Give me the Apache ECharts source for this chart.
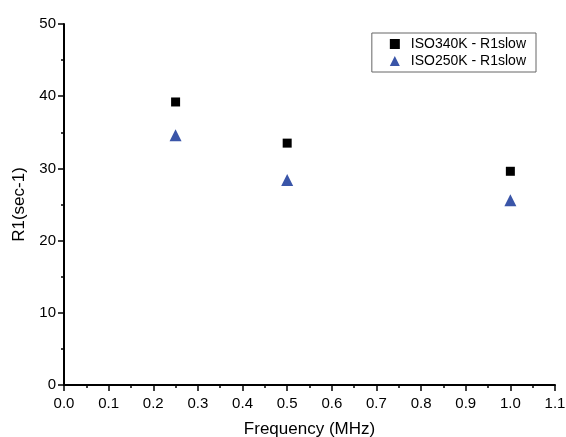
<!DOCTYPE html>
<html><head><meta charset="utf-8">
<script src="https://cdn.jsdelivr.net/npm/echarts@6/dist/echarts.min.js"></script>
<style>html,body{margin:0;padding:0;background:#fff}#c{width:566px;height:437px}</style>
</head><body><div id="c"></div>
<script>
var frequencies = [0.25, 0.5, 1.0];
var iso340 = [39.2, 33.5, 29.6];
var iso250 = [34.6, 28.4, 25.6];
var seriesNames = ['ISO340K - R1slow', 'ISO250K - R1slow'];
var font = 'Liberation Sans, Arial, sans-serif';
var chart = echarts.init(document.getElementById('c'));
function pts(ys){ return frequencies.map(function(x,i){return [x, ys[i]];}); }
var axisCommon = {
  axisLine:{show:true,lineStyle:{color:'#000',width:2}},
  axisTick:{show:true,inside:false,length:6,lineStyle:{color:'#000',width:1.5}},
  minorTick:{show:true,splitNumber:2,length:3,lineStyle:{color:'#000',width:1.5}},
  splitLine:{show:false},
  axisLabel:{color:'#000',fontFamily:font,fontSize:15,margin:8}
};
chart.setOption({
  animation:false,
  backgroundColor:'#fff',
  grid:{left:64,right:11,top:24,bottom:52,containLabel:false,outerBoundsMode:'none'},
  legend:{
    orient:'vertical', right:30, top:33, width:163,
    padding:[4,10,4,18], itemGap:3,
    borderColor:'#666', borderWidth:1,
    itemWidth:10, itemHeight:10,
    textStyle:{fontFamily:font,fontSize:14,color:'#000',padding:[0,0,0,6]},
    data:[{name:seriesNames[0],icon:'rect'},{name:seriesNames[1],icon:'triangle'}]
  },
  xAxis:Object.assign({}, axisCommon, {
    type:'value', min:0, max:1.1, interval:0.1,
    name:'Frequency (MHz)', nameLocation:'middle', nameGap:36,
    nameTextStyle:{color:'#000',fontFamily:font,fontSize:17},
    axisLabel:Object.assign({}, axisCommon.axisLabel, {margin:11, formatter:function(v){return v.toFixed(1);}})
  }),
  yAxis:Object.assign({}, axisCommon, {
    type:'value', min:0, max:50, interval:10,
    name:'R1(sec-1)', nameLocation:'middle', nameGap:36,
    nameTextStyle:{color:'#000',fontFamily:font,fontSize:17}
  }),
  series:[
    {name:seriesNames[0], type:'scatter', symbol:'rect', symbolSize:9,
     itemStyle:{color:'#000',opacity:1}, data:pts(iso340)},
    {name:seriesNames[1], type:'scatter', symbol:'triangle', symbolSize:12,
     itemStyle:{color:'#3a55a8',opacity:1}, data:pts(iso250)}
  ]
});
</script></body></html>
